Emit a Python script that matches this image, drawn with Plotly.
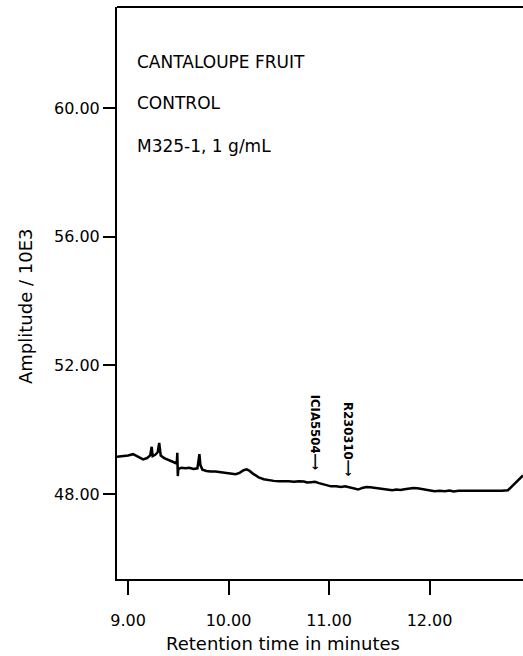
import plotly.graph_objects as go

# Chromatogram trace (retention time in minutes, amplitude / 10E3)
time_min = [8.89, 8.95, 9.00, 9.05, 9.10, 9.15, 9.19, 9.22, 9.235, 9.245, 9.27, 9.295, 9.31, 9.325,
            9.36, 9.40, 9.44, 9.47, 9.485, 9.49, 9.495, 9.50, 9.53, 9.57, 9.61, 9.65, 9.69, 9.70,
            9.71, 9.72, 9.74, 9.78, 9.82, 9.87, 9.92, 9.97, 10.02, 10.07, 10.11, 10.15, 10.18,
            10.21, 10.25, 10.30, 10.35, 10.40, 10.45, 10.50, 10.55, 10.60, 10.65, 10.70, 10.75,
            10.78, 10.82, 10.86, 10.90, 10.94, 10.98, 11.02, 11.07, 11.12, 11.16, 11.20, 11.25,
            11.29, 11.33, 11.37, 11.41, 11.45, 11.50, 11.55, 11.59, 11.63, 11.67, 11.71, 11.75,
            11.80, 11.84, 11.88, 11.92, 11.96, 12.00, 12.05, 12.10, 12.15, 12.20, 12.24, 12.29,
            12.34, 12.39, 12.44, 12.49, 12.54, 12.59, 12.64, 12.68, 12.72, 12.78, 12.85, 12.93]
amplitude = [49.16, 49.18, 49.20, 49.24, 49.16, 49.08, 49.12, 49.20, 49.47, 49.18, 49.22, 49.30, 49.59, 49.20,
             49.12, 49.06, 49.00, 48.95, 48.95, 49.28, 48.56, 48.78, 48.82, 48.80, 48.82, 48.78, 48.80, 49.00,
             49.24, 48.90, 48.76, 48.72, 48.70, 48.70, 48.68, 48.66, 48.66, 48.62, 48.66, 48.74, 48.77,
             48.72, 48.62, 48.52, 48.46, 48.43, 48.41, 48.40, 48.41, 48.40, 48.38, 48.40, 48.39,
             48.36, 48.37, 48.38, 48.34, 48.30, 48.26, 48.24, 48.24, 48.22, 48.24, 48.21, 48.19,
             48.14, 48.19, 48.22, 48.21, 48.19, 48.17, 48.14, 48.12, 48.12, 48.14, 48.13, 48.15,
             48.18, 48.19, 48.18, 48.16, 48.12, 48.10, 48.09, 48.10, 48.09, 48.11, 48.08, 48.10,
             48.10, 48.11, 48.10, 48.11, 48.10, 48.11, 48.09, 48.09, 48.10, 48.12, 48.32, 48.58]

x_ticks = [9, 10, 11, 12]
x_tick_labels = ["9.00", "10.00", "11.00", "12.00"]
y_ticks = [48, 52, 56, 60]
y_tick_labels = ["48.00", "52.00", "56.00", "60.00"]

marker_names = ["ICIA5504⟶", "R230310⟶"]
marker_x = [10.86, 11.20]
marker_y = [49.91, 49.71]

header_lines = ["CANTALOUPE FRUIT", "CONTROL", "M325-1, 1 g/mL"]
header_y = [0.904, 0.832, 0.757]

FONT = "DejaVu Sans"

fig = go.Figure()
fig.add_trace(go.Scatter(x=time_min, y=amplitude, mode="lines",
                         line=dict(color="black", width=2.5), showlegend=False,
                         hoverinfo="skip"))

for name, xv, yv in zip(marker_names, marker_x, marker_y):
    fig.add_annotation(x=xv, y=yv, xref="x", yref="y", text="<b>" + name + "</b>",
                       textangle=90, showarrow=False, xanchor="center", yanchor="middle",
                       font=dict(family="DejaVu Sans Condensed, DejaVu Sans", size=13, color="black"))

for txt, yv in zip(header_lines, header_y):
    fig.add_annotation(x=0.044, y=yv, xref="paper", yref="paper", text=txt,
                       xanchor="left", yanchor="middle", showarrow=False,
                       font=dict(family=FONT, size=17, color="black"))

fig.add_annotation(x=-0.2266, y=0.4755, xref="paper", yref="paper",
                   text="Amplitude / 10E3", textangle=-90, showarrow=False,
                   xanchor="center", yanchor="middle",
                   font=dict(family=FONT, size=18, color="black"))
fig.add_annotation(x=0.409, y=-0.112, xref="paper", yref="paper",
                   text="Retention time in minutes", showarrow=False,
                   xanchor="center", yanchor="middle",
                   font=dict(family=FONT, size=18, color="black"))

fig.update_xaxes(range=[8.89, 12.93], tickvals=x_ticks, ticktext=x_tick_labels,
                 showline=True, linecolor="black", linewidth=2, mirror=False,
                 ticks="outside", ticklen=14, tickwidth=2, tickcolor="black",
                 showgrid=False, zeroline=False, ticklabelstandoff=12,
                 tickfont=dict(family=FONT, size=16, color="black"))
fig.update_yaxes(range=[45.36, 63.14], tickvals=y_ticks, ticktext=y_tick_labels,
                 showline=True, linecolor="black", linewidth=2,
                 ticks="outside", ticklen=12, tickwidth=2, tickcolor="black",
                 showgrid=False, zeroline=False, ticklabelstandoff=0,
                 tickfont=dict(family=FONT, size=16, color="black"))

# top frame line
fig.add_shape(type="line", xref="paper", yref="paper", x0=0, x1=1, y0=1, y1=1,
              line=dict(color="black", width=2))

fig.update_layout(width=523, height=656, margin=dict(l=117, r=0, t=7, b=77),
                  plot_bgcolor="white", paper_bgcolor="white")

fig.write_html("out.html")
